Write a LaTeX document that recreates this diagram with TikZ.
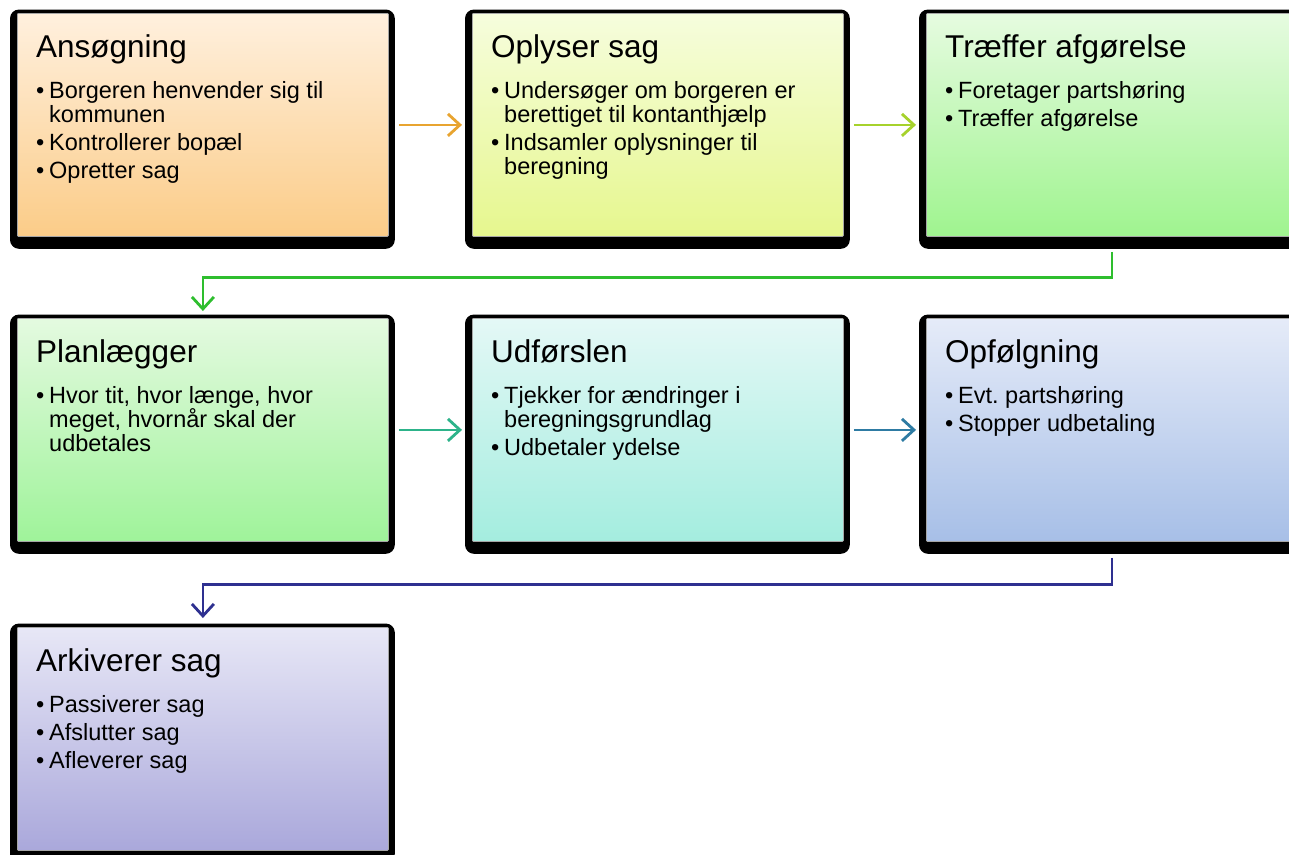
\documentclass[tikz,border=0pt]{standalone}
\usepackage{fontspec}
\setmainfont{Liberation Sans}
\usetikzlibrary{arrows.meta,calc,backgrounds}
\frenchspacing
\definecolor{c1t}{HTML}{FFF0DE}\definecolor{c1b}{HTML}{FBCC88}
\definecolor{c2t}{HTML}{F6FDDD}\definecolor{c2b}{HTML}{E6F78E}
\definecolor{c3t}{HTML}{E6FBE0}\definecolor{c3b}{HTML}{9FF48F}
\definecolor{c4t}{HTML}{E4FAE0}\definecolor{c4b}{HTML}{9FF39A}
\definecolor{c5t}{HTML}{E4F8F6}\definecolor{c5b}{HTML}{A4EDDF}
\definecolor{c6t}{HTML}{E5EBF8}\definecolor{c6b}{HTML}{A7BFE7}
\definecolor{c7t}{HTML}{E7E7F6}\definecolor{c7b}{HTML}{AAA8DB}
\definecolor{a1}{HTML}{E8A430}\definecolor{a2}{HTML}{A6D22C}
\definecolor{a3}{HTML}{2EBE2E}\definecolor{a4}{HTML}{2DB38A}
\definecolor{a5}{HTML}{2E7BA3}\definecolor{a6}{HTML}{2E3090}
\tikzset{
  stage/.style={rectangle, minimum width=371pt, minimum height=223pt, inner sep=0pt,
    draw=black!35, line width=0.8pt, anchor=north west, rounded corners=1pt},
  frame/.style={fill=black, rounded corners=9pt},
  ttl/.style={anchor=base west, inner sep=0pt, font=\fontsize{31.5}{32}\selectfont},
  blt/.style={anchor=base west, inner sep=0pt, font=\fontsize{23.5}{24}\selectfont},
  flow/.style={line width=2.8pt, -{Straight Barb[length=12pt,width=22pt,line width=2.8pt]}},
}
\newcommand\bl{\makebox[13pt][l]{•}}
\newcommand\bi[1]{\hbox{\bl #1}}
\newcommand\ct[1]{\hbox{\hspace*{13pt}#1}}
\newcommand\gap{\vskip4pt}
\newcommand\lst[1]{\vtop{\baselineskip=24pt #1}}
\begin{document}
\begin{tikzpicture}[x=1pt,y=-1pt]
\useasboundingbox (0,0) rectangle (1289,854);
% boxes
\node[stage, top color=c1t, bottom color=c1b] (b1) at (17,13) {};
\node[stage, top color=c2t, bottom color=c2b] (b2) at (472,13) {};
\node[stage, top color=c3t, bottom color=c3b] (b3) at (926,13) {};
\node[stage, top color=c4t, bottom color=c4b] (b4) at (17,318) {};
\node[stage, top color=c5t, bottom color=c5b] (b5) at (472,318) {};
\node[stage, top color=c6t, bottom color=c6b] (b6) at (926,318) {};
\node[stage, top color=c7t, bottom color=c7b] (b7) at (17,627) {};
\begin{scope}[on background layer]
  \fill[white] (0,0) rectangle (1289,854);
  \foreach \b in {b1,b2,b3,b4,b5,b6,b7}
    \fill[frame] ([shift={(-7pt,3.5pt)}]\b.north west) rectangle ([shift={(6pt,-12pt)}]\b.south east);
\end{scope}
% texts
\node[ttl] (t1) at ($(b1.north west)+(19,44)$) {Ansøgning};
\node[blt] (l1) at ($(b1.north west)+(19,85)$) {\lst{\bi{Borgeren henvender sig til}\ct{kommunen}\gap\bi{Kontrollerer bopæl}\gap\bi{Opretter sag}}};
\node[ttl] (t2) at ($(b2.north west)+(19,44)$) {Oplyser sag};
\node[blt] (l2) at ($(b2.north west)+(19,85)$) {\lst{\bi{Undersøger om borgeren er}\ct{berettiget til kontanthjælp}\gap\bi{Indsamler oplysninger til}\ct{beregning}}};
\node[ttl] (t3) at ($(b3.north west)+(19,44)$) {Træffer afgørelse};
\node[blt] (l3) at ($(b3.north west)+(19,85)$) {\lst{\bi{Foretager partshøring}\gap\bi{Træffer afgørelse}}};
\node[ttl] (t4) at ($(b4.north west)+(19,44)$) {Planlægger};
\node[blt] (l4) at ($(b4.north west)+(19,85)$) {\lst{\bi{Hvor tit, hvor længe, hvor}\ct{meget, hvornår skal der}\ct{udbetales}}};
\node[ttl] (t5) at ($(b5.north west)+(19,44)$) {Udførslen};
\node[blt] (l5) at ($(b5.north west)+(19,85)$) {\lst{\bi{Tjekker for ændringer i}\ct{beregningsgrundlag}\gap\bi{Udbetaler ydelse}}};
\node[ttl] (t6) at ($(b6.north west)+(19,44)$) {Opfølgning};
\node[blt] (l6) at ($(b6.north west)+(19,85)$) {\lst{\bi{Evt. partshøring}\gap\bi{Stopper udbetaling}}};
\node[ttl] (t7) at ($(b7.north west)+(19,44)$) {Arkiverer sag};
\node[blt] (l7) at ($(b7.north west)+(19,85)$) {\lst{\bi{Passiverer sag}\gap\bi{Afslutter sag}\gap\bi{Afleverer sag}}};
% connectors
\draw[flow, a1] ([xshift=10pt]b1.east) -- ([xshift=-10pt]b2.west);
\draw[flow, a2] ([xshift=10pt]b2.east) -- ([xshift=-10pt]b3.west);
\draw[flow, a4] ([xshift=10pt]b4.east) -- ([xshift=-10pt]b5.west);
\draw[flow, a5] ([xshift=10pt]b5.east) -- ([xshift=-10pt]b6.west);
\draw[flow, a3] ([yshift=-15pt]b3.south) |- ($(b3.south)!0.5!(b4.north)$) -| ([yshift=7pt]b4.north);
\draw[flow, a6] ([yshift=-16pt]b6.south) |- ($(b6.south)!0.5!(b7.north)$) -| ([yshift=9pt]b7.north);
\end{tikzpicture}
\end{document}
